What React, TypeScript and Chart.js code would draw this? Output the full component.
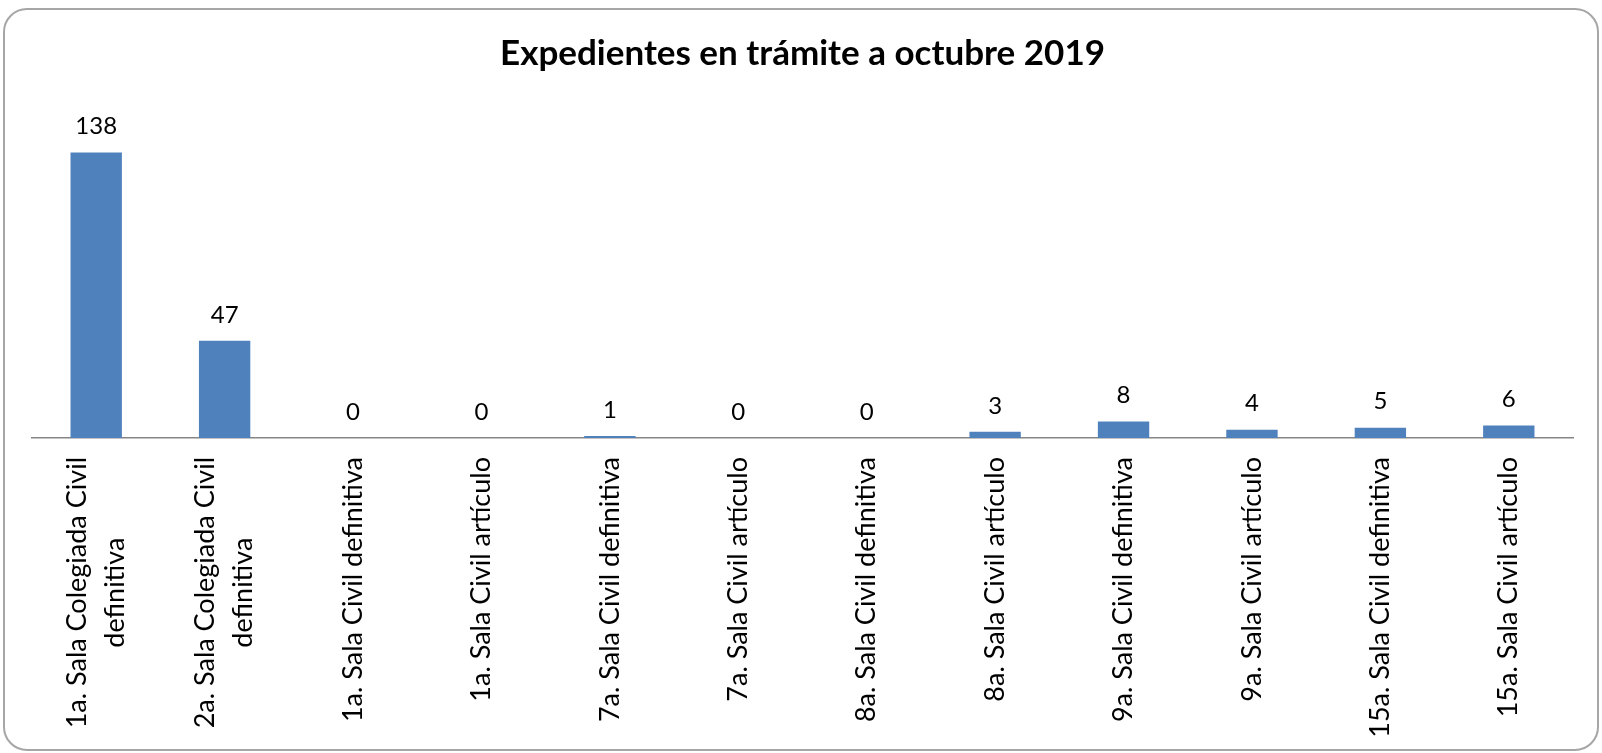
import React, { useEffect, useRef } from "react";
import { Chart, registerables } from "chart.js";

Chart.register(...registerables);

const TITLE = "Expedientes en trámite a octubre 2019";
const categories: string[][] = [
  ["1a. Sala Colegiada Civil", "definitiva"],
  ["2a. Sala Colegiada Civil", "definitiva"],
  ["1a. Sala Civil definitiva"],
  ["1a. Sala Civil artículo"],
  ["7a. Sala Civil definitiva"],
  ["7a. Sala Civil artículo"],
  ["8a. Sala Civil definitiva"],
  ["8a. Sala Civil artículo"],
  ["9a. Sala Civil definitiva"],
  ["9a. Sala Civil artículo"],
  ["15a. Sala Civil definitiva"],
  ["15a. Sala Civil artículo"],
];
const values: number[] = [138, 47, 0, 0, 1, 0, 0, 3, 8, 4, 5, 6];

const FONT = "Lato, 'Open Sans', sans-serif";

const valueLabelPlugin = {
  id: "valueLabels",
  afterDatasetsDraw(chart: any) {
    const ctx = chart.ctx;
    const meta = chart.getDatasetMeta(0);
    ctx.save();
    ctx.font = `24px ${FONT}`;
    ctx.fillStyle = "#000";
    ctx.textAlign = "center";
    ctx.textBaseline = "middle";
    meta.data.forEach((bar: any, i: number) => {
      ctx.fillText(String(values[i]), bar.x, bar.y - 26);
    });
    ctx.restore();
  },
};

const rotatedTickPlugin = {
  id: "rotatedTicks",
  afterDraw(chart: any) {
    const ctx = chart.ctx;
    const xScale = chart.scales.x;
    const top = chart.chartArea.bottom + 19;
    const lineH = 38;
    ctx.save();
    ctx.font = `27px ${FONT}`;
    ctx.fillStyle = "#000";
    ctx.textAlign = "center";
    ctx.textBaseline = "middle";
    categories.forEach((lines, i) => {
      const x = xScale.getPixelForValue(i);
      const w = Math.max(...lines.map((l) => ctx.measureText(l).width));
      ctx.save();
      ctx.translate(x, top + w / 2);
      ctx.rotate(-Math.PI / 2);
      lines.forEach((l, j) => {
        ctx.fillText(l, 0, (j - (lines.length - 1) / 2) * lineH);
      });
      ctx.restore();
    });
    ctx.restore();
  },
};

export default function App() {
  const ref = useRef<HTMLCanvasElement | null>(null);
  useEffect(() => {
    if (!ref.current) return;
    const chart = new Chart(ref.current, {
      type: "bar",
      data: {
        labels: categories.map((c) => c.join(" ")),
        datasets: [
          {
            data: values,
            backgroundColor: "#4F81BD",
            borderWidth: 0,
            barPercentage: 0.4,
            categoryPercentage: 1,
          },
        ],
      },
      options: {
        responsive: false,
        animation: false,
        devicePixelRatio: 1,
        layout: { padding: { left: 32, right: 29, top: 0, bottom: 315 } },
        plugins: {
          legend: { display: false },
          tooltip: { enabled: false },
          title: {
            display: true,
            text: TITLE,
            color: "#000",
            font: { family: FONT, size: 35, weight: "bold", lineHeight: 1.2 },
            padding: { top: 32.5, bottom: 32.5 },
          },
        },
        scales: {
          x: {
            display: true,
            grid: { display: false, drawTicks: false },
            ticks: { display: false },
            border: { display: true, color: "#868686", width: 1.5 },
          },
          y: {
            display: false,
            min: 0,
            max: 160,
          },
        },
      },
      plugins: [valueLabelPlugin, rotatedTickPlugin],
    });
    return () => chart.destroy();
  }, []);

  return (
    <div
      style={{
        position: "fixed",
        left: 0,
        top: 0,
        width: 1602,
        height: 753,
        background: "#fff",
        overflow: "hidden",
      }}
    >
      <canvas
        ref={ref}
        width={1602}
        height={753}
        style={{ position: "absolute", left: 0, top: 0, width: 1602, height: 753 }}
      />
      <div
        style={{
          position: "absolute",
          left: 3,
          top: 8,
          width: 1596,
          height: 743,
          boxSizing: "border-box",
          border: "2px solid #a6a6a6",
          borderRadius: 24,
          pointerEvents: "none",
        }}
      />
    </div>
  );
}
